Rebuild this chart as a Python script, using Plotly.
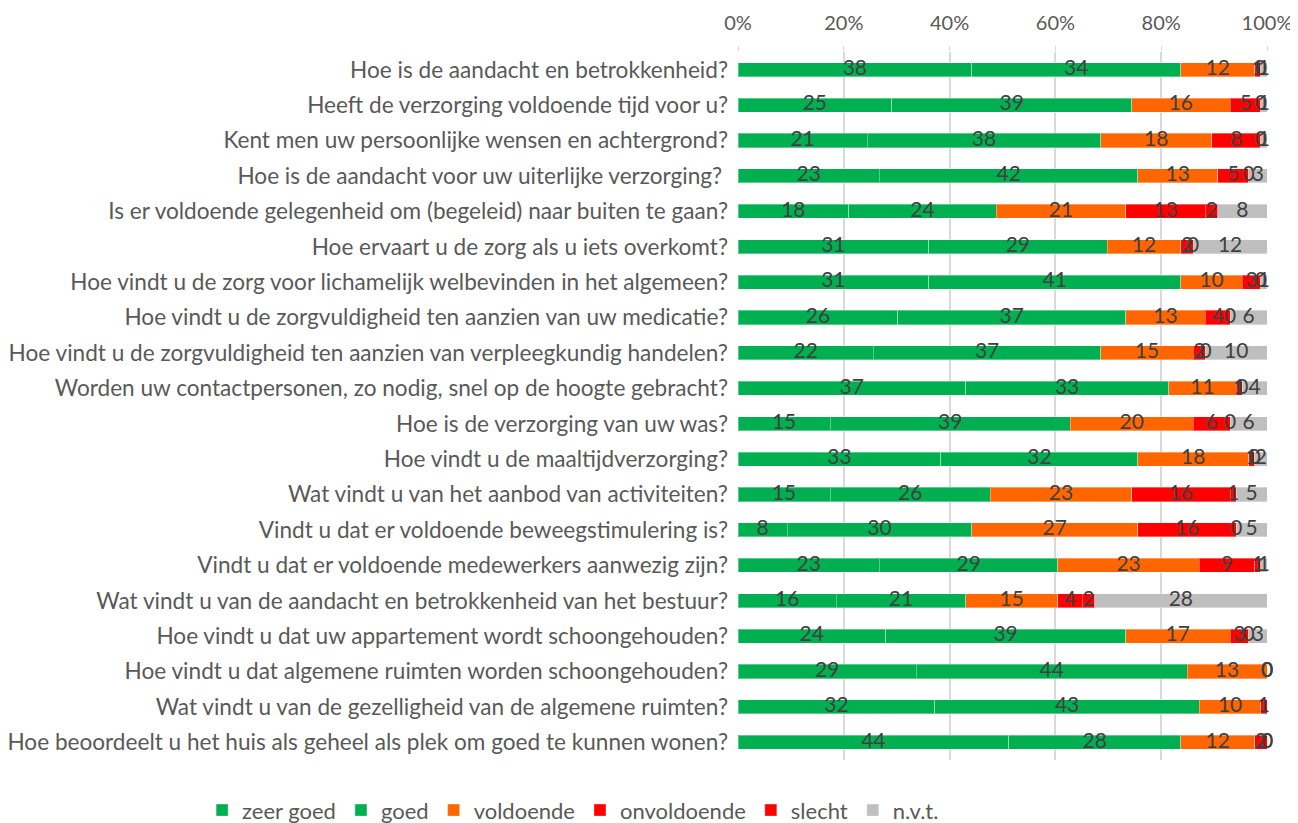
import plotly.graph_objects as go

questions = [
    "Hoe is de aandacht en betrokkenheid?",
    "Heeft de verzorging voldoende tijd voor u?",
    "Kent men uw persoonlijke wensen en achtergrond?",
    "Hoe is de aandacht voor uw uiterlijke verzorging? ",
    "Is er voldoende gelegenheid om (begeleid) naar buiten te gaan?",
    "Hoe ervaart u de zorg als u iets overkomt?",
    "Hoe vindt u de zorg voor lichamelijk welbevinden in het algemeen?",
    "Hoe vindt u de zorgvuldigheid ten aanzien van uw medicatie?",
    "Hoe vindt u de zorgvuldigheid ten aanzien van verpleegkundig handelen?",
    "Worden uw contactpersonen, zo nodig, snel op de hoogte gebracht?",
    "Hoe is de verzorging van uw was?",
    "Hoe vindt u de maaltijdverzorging?",
    "Wat vindt u van het aanbod van activiteiten?",
    "Vindt u dat er voldoende beweegstimulering is?",
    "Vindt u dat er voldoende medewerkers aanwezig zijn?",
    "Wat vindt u van de aandacht en betrokkenheid van het bestuur?",
    "Hoe vindt u dat uw appartement wordt schoongehouden?",
    "Hoe vindt u dat algemene ruimten worden schoongehouden?",
    "Wat vindt u van de gezelligheid van de algemene ruimten?",
    "Hoe beoordeelt u het huis als geheel als plek om goed te kunnen wonen?",
]

series_names = ["zeer goed", "goed", "voldoende", "onvoldoende", "slecht", "n.v.t."]

zeer_goed   = [38, 25, 21, 23, 18, 31, 31, 26, 22, 37, 15, 33, 15, 8, 23, 16, 24, 29, 32, 44]
goed        = [34, 39, 38, 42, 24, 29, 41, 37, 37, 33, 39, 32, 26, 30, 29, 21, 39, 44, 43, 28]
voldoende   = [12, 16, 18, 13, 21, 12, 10, 13, 15, 11, 20, 18, 23, 27, 23, 15, 17, 13, 10, 12]
onvoldoende = [1, 5, 8, 5, 13, 2, 3, 4, 2, 1, 6, 1, 16, 16, 9, 4, 3, 0, 1, 2]
slecht      = [0, 0, 0, 0, 2, 0, 0, 0, 0, 0, 0, 0, 1, 0, 1, 2, 0, 0, 0, 0]
nvt         = [1, 1, 1, 3, 8, 12, 1, 6, 10, 4, 6, 2, 5, 5, 1, 28, 3, 0, 0, 0]

tick_vals = [0, 20, 40, 60, 80, 100]
tick_text = ["0%", "20%", "40%", "60%", "80%", "100%"]

colors = ["#00B050", "#00B050", "#FF6600", "#FF0000", "#FF0000", "#BFBFBF"]

all_series = [zeer_goed, goed, voldoende, onvoldoende, slecht, nvt]
totals = [sum(s[i] for s in all_series) for i in range(len(questions))]

FONT = "Lato"
fig = go.Figure()

cum = [0.0] * len(questions)
label_x, label_y, label_t = [], [], []
for name, vals, col in zip(series_names, all_series, colors):
    pct = [v / t * 100 for v, t in zip(vals, totals)]
    fig.add_trace(go.Bar(
        y=questions, x=pct, name=name, orientation="h",
        marker=dict(color=col, line=dict(color="rgba(255,255,255,0.35)", width=1)),
        hoverinfo="skip",
    ))
    for i, (p, v) in enumerate(zip(pct, vals)):
        label_x.append(cum[i] + p / 2)
        label_y.append(questions[i])
        label_t.append(str(v))
        cum[i] += p

fig.add_trace(go.Scatter(
    x=label_x, y=label_y, text=label_t, mode="text",
    textposition="middle center",
    textfont=dict(family=FONT, size=21, color="#404040"),
    showlegend=False, hoverinfo="skip", cliponaxis=False,
))

n = len(questions)
fig.update_layout(
    barmode="stack",
    bargap=0.6,
    width=1290, height=815,
    margin=dict(l=730, r=31, t=44, b=63, autoexpand=False),
    paper_bgcolor="white", plot_bgcolor="white",
    font=dict(family=FONT, size=19, color="#595959"),
    legend=dict(orientation="h", x=-1.013, xanchor="left", y=-0.071, yanchor="middle",
                font=dict(family=FONT, size=22, color="#595959"), itemwidth=30,
                traceorder="normal"),
    xaxis=dict(side="top", range=[0, 100], tickvals=tick_vals, ticktext=tick_text,
               showgrid=True, gridcolor="#D9D9D9", gridwidth=1.5, zeroline=False,
               ticks="outside", ticklen=5, tickcolor="#D9D9D9", automargin=False,
               ticklabelstandoff=8,
               tickfont=dict(family=FONT, size=20, color="#595959"), fixedrange=True),
    yaxis=dict(categoryorder="array", categoryarray=questions, range=[n - 0.5, -0.5],
               showgrid=False, zeroline=False, ticks="", ticklabelstandoff=9, automargin=False,
               tickfont=dict(family=FONT, size=22.6, color="#595959"), fixedrange=True),
)

fig.write_html("out.html")
